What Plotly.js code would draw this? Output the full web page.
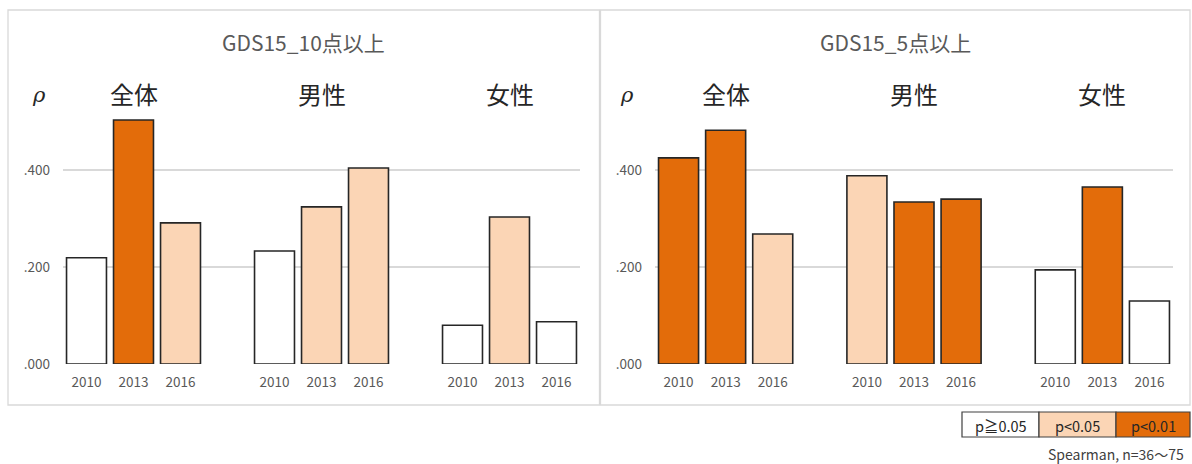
<!DOCTYPE html>
<html>
<head>
<meta charset="utf-8">
<script src="https://cdn.plot.ly/plotly-3.0.1.min.js"></script>
<style>html,body{margin:0;padding:0;background:#fff}#chart{width:1192px;height:464px}</style>
</head>
<body>
<div id="chart"></div>
<script>
const years = ['2010', '2013', '2016'];
const groups = ['全体', '男性', '女性'];
const panelTitles = ['GDS15_10点以上', 'GDS15_5点以上'];
const gds10 = [0.219, 0.503, 0.291, 0.233, 0.324, 0.404, 0.080, 0.303, 0.087];
const gds10Sig = ['ns', 'p01', 'p05', 'ns', 'p05', 'p05', 'ns', 'p05', 'ns'];
const gds5 = [0.425, 0.482, 0.268, 0.388, 0.334, 0.340, 0.194, 0.365, 0.130];
const gds5Sig = ['p01', 'p01', 'p05', 'p05', 'p01', 'p01', 'ns', 'p01', 'ns'];
const yTickVals = [0, 0.2, 0.4];
const yTickText = ['.000', '.200', '.400'];
const sigKeys = ['ns', 'p05', 'p01'];
const sigLabels = ['p≧0.05', 'p<0.05', 'p<0.01'];
const sigColors = {ns: '#FFFFFF', p05: '#FBD5B5', p01: '#E36C0A'};

const FONT = '"Noto Sans CJK JP", "Noto Sans", sans-serif';
const W = 1192, H = 464;
const px = v => v / W;
const py = v => 1 - v / H;

// x positions: groups separated by one empty slot
const xs = [];
const xt = [];
groups.forEach((g, gi) => years.forEach((y, yi) => { xs.push(gi * 4 + yi); xt.push(y); }));

function barTrace(vals, sig, ax) {
  return {
    type: 'bar', x: xs, y: vals, xaxis: ax.x, yaxis: ax.y,
    width: 0.85,
    marker: {color: sig.map(s => sigColors[s]), line: {color: '#262626', width: 1.6}},
    hoverinfo: 'y', showlegend: false
  };
}

const data = [
  barTrace(gds10, gds10Sig, {x: 'x', y: 'y'}),
  barTrace(gds5, gds5Sig, {x: 'x2', y: 'y2'})
];

const yDomain = [py(364), py(73)];
const yRange = [0, 0.6];
function xAxis(domain, anchor) {
  return {
    domain: domain, anchor: anchor, range: [-0.5, 10.5],
    tickvals: xs, ticktext: xt, ticks: '', showgrid: false, zeroline: false,
    showline: false, ticklabelstandoff: 8, tickfont: {family: FONT, size: 13.5, color: '#595959'}
  };
}
function yAxis(anchor) {
  return {
    domain: yDomain, anchor: anchor, range: yRange, tickvals: yTickVals, ticktext: yTickText,
    showgrid: true, gridcolor: '#D9D9D9', gridwidth: 1.3, zeroline: false, showline: false,
    ticks: '', ticklen: 0, ticklabelstandoff: 12, tickfont: {family: FONT, size: 13.5, color: '#595959'}
  };
}

const annotations = [];
const shapes = [];
const panels = [
  {left: 8, right: 599.5, ax: 'x', ayref: 'y', rhoX: 39},
  {left: 600.5, right: 1190, ax: 'x2', ayref: 'y2', rhoX: 627}
];
panels.forEach((p, i) => {
  shapes.push({type: 'rect', xref: 'paper', yref: 'paper', x0: px(p.left), x1: px(p.right),
    y0: py(405), y1: py(10), line: {color: '#D9D9D9', width: 1.3}, fillcolor: 'rgba(0,0,0,0)', layer: 'below'});
  annotations.push({xref: 'paper', yref: 'paper', x: px((p.left + p.right) / 2), y: py(42),
    text: panelTitles[i], showarrow: false, xanchor: 'center', yanchor: 'middle',
    font: {family: FONT, size: 21, color: '#595959'}});
  annotations.push({xref: 'paper', yref: 'paper', x: px(p.rhoX), y: py(95),
    text: '<i>ρ</i>', showarrow: false, xanchor: 'center', yanchor: 'middle',
    font: {family: '"DejaVu Serif", serif', size: 21, color: '#262626'}});
  groups.forEach((g, gi) => {
    annotations.push({xref: p.ax, yref: 'paper', x: gi * 4 + 1, y: py(93),
      text: g, showarrow: false, xanchor: 'center', yanchor: 'middle',
      font: {family: FONT, size: 24, color: '#262626'}});
  });
});

// significance legend boxes
const legEdges = [962, 1039, 1116, 1190];
sigKeys.forEach((k, i) => {
  shapes.push({type: 'rect', xref: 'paper', yref: 'paper', x0: px(legEdges[i]), x1: px(legEdges[i + 1]),
    y0: py(437), y1: py(412), fillcolor: sigColors[k], line: {color: '#404040', width: 1.2}});
  annotations.push({xref: 'paper', yref: 'paper', x: px((legEdges[i] + legEdges[i + 1]) / 2), y: py(425),
    text: sigLabels[i], showarrow: false, xanchor: 'center', yanchor: 'middle',
    font: {family: FONT, size: 14.5, color: '#262626'}});
});
annotations.push({xref: 'paper', yref: 'paper', x: px(1186), y: py(454),
  text: 'Spearman, n=36〜75', showarrow: false, xanchor: 'right', yanchor: 'middle',
  font: {family: FONT, size: 14, color: '#404040'}});

const layout = {
  width: W, height: H, margin: {l: 0, r: 0, t: 0, b: 0},
  paper_bgcolor: '#FFFFFF', plot_bgcolor: 'rgba(0,0,0,0)',
  bargap: 0,
  xaxis: xAxis([px(63), px(580)], 'y'),
  yaxis: yAxis('x'),
  xaxis2: xAxis([px(655), px(1173)], 'y2'),
  yaxis2: yAxis('x2'),
  annotations: annotations, shapes: shapes, showlegend: false
};

Plotly.newPlot('chart', data, layout, {displayModeBar: false, staticPlot: true});
</script>
</body>
</html>
